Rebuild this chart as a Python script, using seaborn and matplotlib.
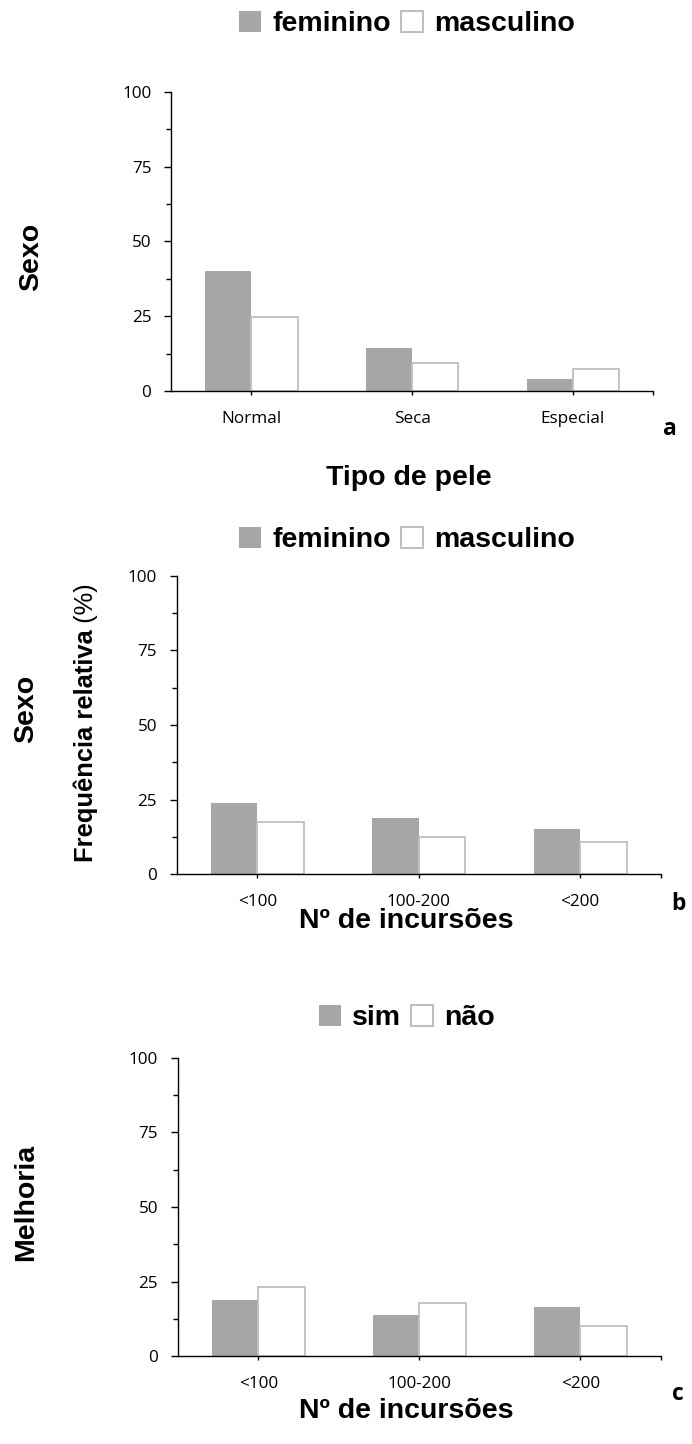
import matplotlib
matplotlib.use("Agg")
import matplotlib.pyplot as plt
import seaborn as sns
import pandas as pd
from matplotlib.patches import Patch

# ---- data (relative frequency, %) ----
pele_tipos = ["Normal", "Seca", "Especial"]
pele_feminino = [40.1, 14.3, 3.9]
pele_masculino = [24.8, 9.2, 7.5]

incursoes = ["<100", "100-200", "<200"]
incursoes_feminino = [23.9, 18.9, 15.3]
incursoes_masculino = [17.6, 12.5, 10.7]

melhoria_sim = [19.0, 13.7, 16.6]
melhoria_nao = [23.1, 18.0, 10.0]

sexo_niveis = ["feminino", "masculino"]
melhoria_niveis = ["sim", "não"]
y_ticks = [0, 25, 50, 75, 100]
y_minor = [12.5, 37.5, 62.5, 87.5]

FILL = "#A6A6A6"
EDGE = "#BFBFBF"

sns.set_theme(style="white")
plt.rcParams["font.family"] = ["Open Sans", "DejaVu Sans"]
plt.rcParams["text.color"] = "black"
plt.rcParams["axes.labelcolor"] = "black"

W, H = 692, 1444
fig = plt.figure(figsize=(W / 100, H / 100), dpi=100)


def fx(x):
    return x / W


def fy(y):
    return 1 - y / H


def rect(left, right, top, bottom):
    return [left / W, 1 - bottom / H, (right - left) / W, (bottom - top) / H]


def painel(r, cats, niveis, v1, v2):
    ax = fig.add_axes(r)
    df = pd.DataFrame({
        "cat": cats * 2,
        "grupo": [niveis[0]] * len(cats) + [niveis[1]] * len(cats),
        "valor": v1 + v2,
    })
    sns.barplot(data=df, x="cat", y="valor", hue="grupo", order=cats,
                hue_order=niveis, palette={niveis[0]: FILL, niveis[1]: "white"},
                width=0.575, saturation=1, errorbar=None, legend=False, ax=ax)
    for cont, ec, lw in zip(ax.containers, [FILL, EDGE], [0.0, 1.3]):
        for bar in cont:
            bar.set_edgecolor(ec)
            bar.set_linewidth(lw)
    ax.set_xlim(-0.5, 2.5)
    ax.set_ylim(0, 100)
    ax.set_yticks(y_ticks)
    ax.set_yticks(y_minor, minor=True)
    ax.set_xticks([0, 1, 2, 2.5])
    ax.set_xticklabels(cats + [""])
    ax.set_xlabel("")
    ax.set_ylabel("")
    sns.despine(ax=ax)
    for s in ["left", "bottom"]:
        ax.spines[s].set_linewidth(1.0)
        ax.spines[s].set_color("black")
    ax.tick_params(axis="y", which="major", direction="out", left=True,
                   length=4.8, width=1, pad=9.4, labelsize=12.3, colors="black")
    ax.tick_params(axis="y", which="minor", direction="out", left=True,
                   length=3.4, width=1, colors="black")
    ax.tick_params(axis="x", which="major", direction="out", bottom=True,
                   length=3, width=1, pad=11.5, labelsize=12.3, colors="black")
    return ax


painel(rect(171, 653.3, 91.7, 391), pele_tipos, sexo_niveis,
       pele_feminino, pele_masculino)
painel(rect(176.7, 660.8, 575.7, 874.3), incursoes, sexo_niveis,
       incursoes_feminino, incursoes_masculino)
painel(rect(177.7, 660.8, 1057.7, 1356.3), incursoes, melhoria_niveis,
       melhoria_sim, melhoria_nao)

BIG = dict(family=["Liberation Sans", "DejaVu Sans"], weight="bold", size=20.5,
           color="black")


def legenda(niveis, cy):
    handles = [Patch(facecolor=FILL, edgecolor=FILL, linewidth=0),
               Patch(facecolor="white", edgecolor=EDGE, linewidth=1.5)]
    fig.legend(handles, niveis, loc="center", bbox_to_anchor=(fx(407), fy(cy)),
               ncol=2, frameon=False, labelcolor="black",
               prop=dict(family="Liberation Sans", weight="bold", size=20.5),
               handlelength=0.77, handleheight=0.77, handletextpad=0.38,
               columnspacing=0.36, borderpad=0, borderaxespad=0)


legenda(sexo_niveis, 24)
legenda(sexo_niveis, 540)
legenda(melhoria_niveis, 1018)

# axis titles under each panel
fig.text(fx(409), fy(485), "Tipo de pele", ha="center", va="baseline", **BIG)
fig.text(fx(406), fy(928), "Nº de incursões", ha="center", va="baseline", **BIG)
fig.text(fx(406), fy(1418), "Nº de incursões", ha="center", va="baseline", **BIG)

# row labels
ROT = dict(rotation=90, rotation_mode="anchor", ha="center", va="baseline")
fig.text(fx(38.3), fy(257), "Sexo", **ROT, **BIG)
fig.text(fx(33.3), fy(709), "Sexo", **ROT, **BIG)
fig.text(fx(33.3), fy(1202), "Melhoria", **ROT, **BIG)

# shared y label: bold text followed by a regular "(%)"
renderer = fig.canvas.get_renderer()
lab_size = 18.4
t_reg = fig.text(fx(93), fy(583), " (%)", rotation=90, rotation_mode="anchor",
                 ha="right", va="baseline", color="black",
                 family=["Liberation Sans", "DejaVu Sans"], size=lab_size)
ext = t_reg.get_window_extent(renderer)
junction = (H - 583) - ext.height
fig.text(fx(93), junction / H, "Frequência relativa", rotation=90,
         rotation_mode="anchor", ha="right", va="baseline", color="black",
         family=["Liberation Sans", "DejaVu Sans"], weight="bold", size=lab_size)

# panel letters
LET = dict(family=["Open Sans", "DejaVu Sans"], weight="bold", size=16.5,
           ha="center", va="baseline", color="black")
fig.text(fx(670), fy(435), "a", **LET)
fig.text(fx(678), fy(910), "b", **LET)
fig.text(fx(678), fy(1400), "c", **LET)

fig.savefig("out.png", dpi=100)
